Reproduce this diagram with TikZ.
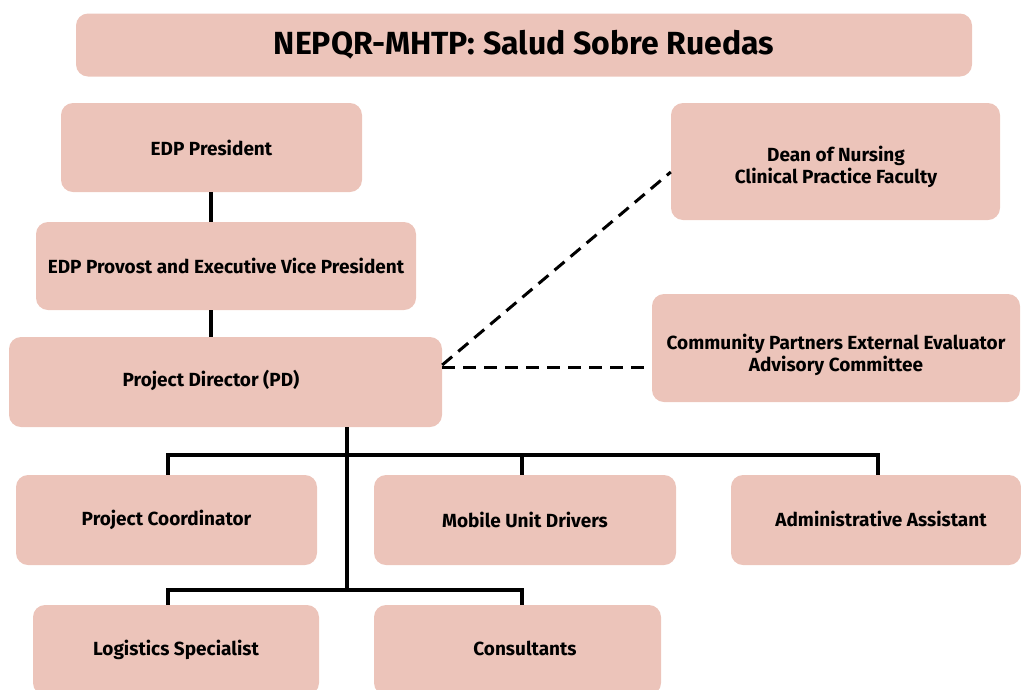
\documentclass[tikz,border=0pt]{standalone}
\usepackage{fontspec}
\setmainfont{Fira Sans}
\usepackage{xcolor}
\usetikzlibrary{positioning,calc}
\definecolor{boxpink}{HTML}{ECC4BA}
\newcommand{\boxfont}{\bfseries\fontsize{19}{21.5}\selectfont}
\tikzset{
  unit/.style={rectangle,rounded corners=12pt,fill=boxpink,font=\boxfont,align=center,inner sep=0pt},
  label text/.style={font=\boxfont,align=center,inner sep=0pt},
  link/.style={line width=4.5pt},
  dotted link/.style={line width=3pt,dash pattern=on 13pt off 8pt}
}
\begin{document}
\begin{tikzpicture}[x=1pt,y=-1pt]
\useasboundingbox (0,0) rectangle (1021,689);
% Title
\node[unit,minimum width=896pt,minimum height=63pt,font=\bfseries\fontsize{32}{36}\selectfont] (title) at (524,45) {NEPQR-MHTP: Salud Sobre Ruedas};

% Leadership chain
\node[unit,minimum width=301pt,minimum height=89pt] (pres) at (211.5,147.5) {EDP President};
\node[unit,minimum width=380pt,minimum height=88pt] (prov) at (226,266) {EDP Provost and Executive Vice President};
\node[unit,minimum width=433pt,minimum height=90pt] (pd) at (225.5,382) {};
\node[label text] (pdtext) at (211,380) {Project Director (PD)};

% Advisory side
\node[unit,minimum width=329pt,minimum height=117pt] (dean) at (835.5,161.5) {};
\node[label text] (deantext) at (836,167) {Dean of Nursing\\Clinical Practice Faculty};
\node[unit,minimum width=368pt,minimum height=108pt] (comm) at (836,348) {};
\node[label text] (commtext) at (836,355) {Community Partners External Evaluator\\Advisory Committee};

% Staff
\node[unit,minimum width=301pt,minimum height=90pt] (coord) at (166.5,520) {Project Coordinator};
\node[unit,minimum width=302pt,minimum height=90pt] (drivers) at (525,520) {Mobile Unit Drivers};
\node[unit,minimum width=290pt,minimum height=90pt] (admin) at (876,520) {};
\node[label text] (admintext) at (881,519) {Administrative Assistant};
\node[unit,minimum width=286pt,minimum height=90pt] (logis) at (176,650) {Logistics Specialist};
\node[unit,minimum width=287pt,minimum height=90pt] (cons) at (517.5,650) {};
\node[label text] (constext) at (525,648) {Consultants};

\coordinate (bus1) at (347,455);
\coordinate (bus2) at (347,590);

\draw[link] (pres.south -| 211,0) -- (prov.north -| 211,0);
\draw[link] (prov.south -| 211,0) -- (pd.north -| 211,0);
\draw[link] (pd.south -| bus1) -- (bus2);
\draw[link] (coord.north -| 168,0) -- (168,455) -- (878,455) -- (admin.north -| 878,0);
\draw[link] (522,455) -- (drivers.north -| 522,0);
\draw[link] (logis.north -| 168,0) -- (168,590) -- (522,590) -- (cons.north -| 522,0);

\draw[dotted link] (pd.east |- 0,365) -- (dean.west |- 0,172);
\draw[dotted link] (pd.east |- 0,367) -- (comm.west |- 0,367);
\end{tikzpicture}
\end{document}
